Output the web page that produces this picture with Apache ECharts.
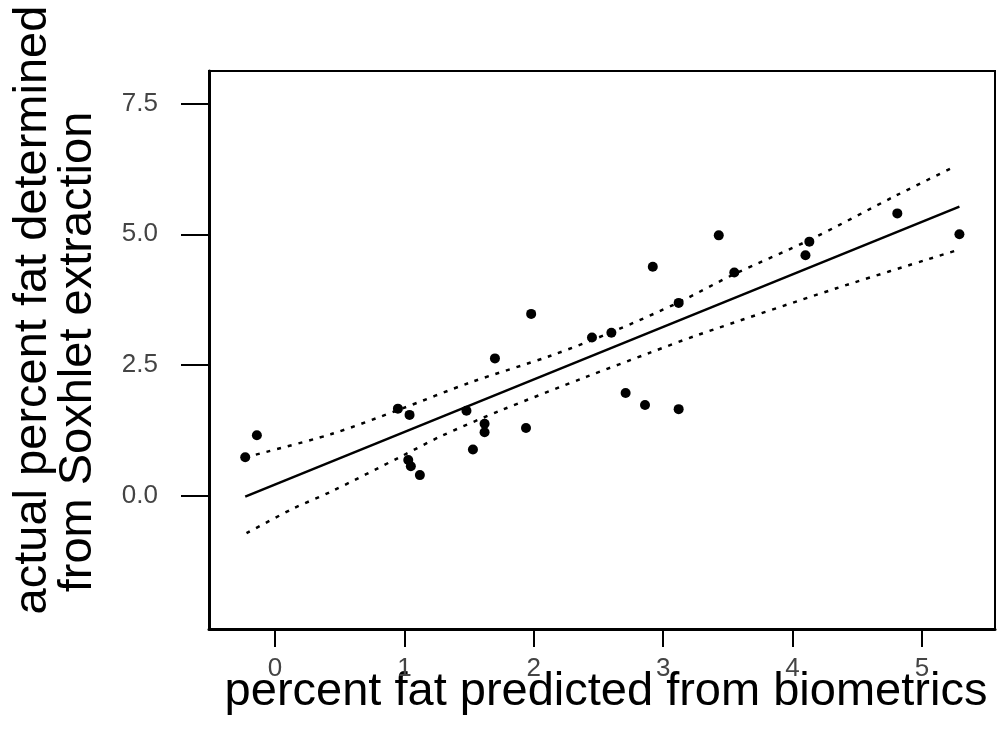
<!DOCTYPE html>
<html>
<head>
<meta charset="utf-8">
<script src="https://cdn.jsdelivr.net/npm/echarts@6/dist/echarts.min.js"></script>
<style>
html,body{margin:0;padding:0;background:#fff;}
#chart{width:997px;height:741px;}
</style>
</head>
<body>
<div id="chart"></div>
<script>
// ---- data ----
const xTicks = [0, 1, 2, 3, 4, 5];
const yTicks = [0, 2.5, 5, 7.5];
const predicted = [-0.23, -0.14, 0.95, 1.04, 1.03, 1.05, 1.12, 1.48, 1.53, 1.62, 1.62, 1.70, 1.94, 1.98, 2.45, 2.60, 2.71, 2.86, 2.92, 3.12, 3.12, 3.43, 3.55, 4.10, 4.13, 4.81, 5.29];
const actual    = [0.74, 1.16, 1.67, 1.55, 0.69, 0.57, 0.40, 1.63, 0.89, 1.38, 1.22, 2.63, 1.30, 3.48, 3.03, 3.12, 1.97, 1.74, 4.38, 3.69, 1.66, 4.98, 4.27, 4.60, 4.86, 5.40, 5.00];
const fitX = [-0.23, 5.29];
const fitY = [-0.01, 5.53];
const upperX = [-0.23, 0.43, 0.97, 1.51, 2.13, 2.62, 3.12, 3.55, 4.13, 4.80, 5.26];
const upperY = [0.74, 1.18, 1.66, 2.17, 2.68, 3.15, 3.70, 4.24, 4.89, 5.74, 6.30];
const lowerX = [-0.22, 0.14, 0.43, 0.97, 1.28, 1.74, 2.41, 2.90, 3.26, 4.34, 5.29];
const lowerY = [-0.71, -0.24, 0.08, 0.75, 1.14, 1.63, 2.28, 2.74, 3.07, 3.97, 4.71];
const xTitle = 'percent fat predicted from biometrics';
const yTitle1 = 'actual percent fat determined';
const yTitle2 = 'from Soxhlet extraction';

const zip = (a, b) => a.map((v, i) => [v, b[i]]);

const chart = echarts.init(document.getElementById('chart'), null, {renderer: 'canvas'});
const FONT = '"Liberation Sans", Arial, Helvetica, sans-serif';
const bandStyle = {color: '#000', width: 2.5, type: [4, 7]};

chart.setOption({
  animation: false,
  backgroundColor: '#fff',
  grid: {left: 209, top: 71, right: 2, bottom: 112, show: true, borderColor: '#000', borderWidth: 2, backgroundColor: 'transparent'},
  xAxis: {
    type: 'value', min: -0.51, max: 5.565,
    splitLine: {show: false},
    axisLine: {show: true, onZero: false, lineStyle: {color: '#000', width: 3}},
    axisTick: {show: true, inside: false, customValues: xTicks, length: 18, lineStyle: {color: '#000', width: 2}},
    axisLabel: {customValues: xTicks, margin: 27, fontSize: 26, color: '#444', fontFamily: FONT,
      formatter: v => String(v)}
  },
  yAxis: {
    type: 'value', min: -2.54, max: 8.12,
    splitLine: {show: false},
    axisLine: {show: true, onZero: false, lineStyle: {color: '#000', width: 3}},
    axisTick: {show: true, customValues: yTicks, length: 28, lineStyle: {color: '#000', width: 2}},
    axisLabel: {customValues: yTicks, margin: 51, fontSize: 26, color: '#444', fontFamily: FONT,
      formatter: v => v.toFixed(1)}
  },
  graphic: [
    {type: 'text', x: 606, y: 692, style: {text: xTitle, font: '47px ' + FONT, fill: '#000', textAlign: 'center', textVerticalAlign: 'middle'}},
    {type: 'text', x: 33, y: 310, rotation: Math.PI / 2, style: {text: yTitle1, font: '47px ' + FONT, fill: '#000', textAlign: 'center', textVerticalAlign: 'middle'}},
    {type: 'text', x: 78, y: 352, rotation: Math.PI / 2, style: {text: yTitle2, font: '47px ' + FONT, fill: '#000', textAlign: 'center', textVerticalAlign: 'middle'}}
  ],
  series: [
    {type: 'line', data: zip(upperX, upperY), smooth: 0.3, symbol: 'none', lineStyle: bandStyle, z: 2},
    {type: 'line', data: zip(lowerX, lowerY), smooth: 0.3, symbol: 'none', lineStyle: bandStyle, z: 2},
    {type: 'line', data: zip(fitX, fitY), symbol: 'none', lineStyle: {color: '#000', width: 2.5}, z: 3},
    {type: 'scatter', data: zip(predicted, actual), symbol: 'circle', symbolSize: 10, itemStyle: {color: '#000', opacity: 1}, z: 4}
  ]
});
</script>
</body>
</html>
